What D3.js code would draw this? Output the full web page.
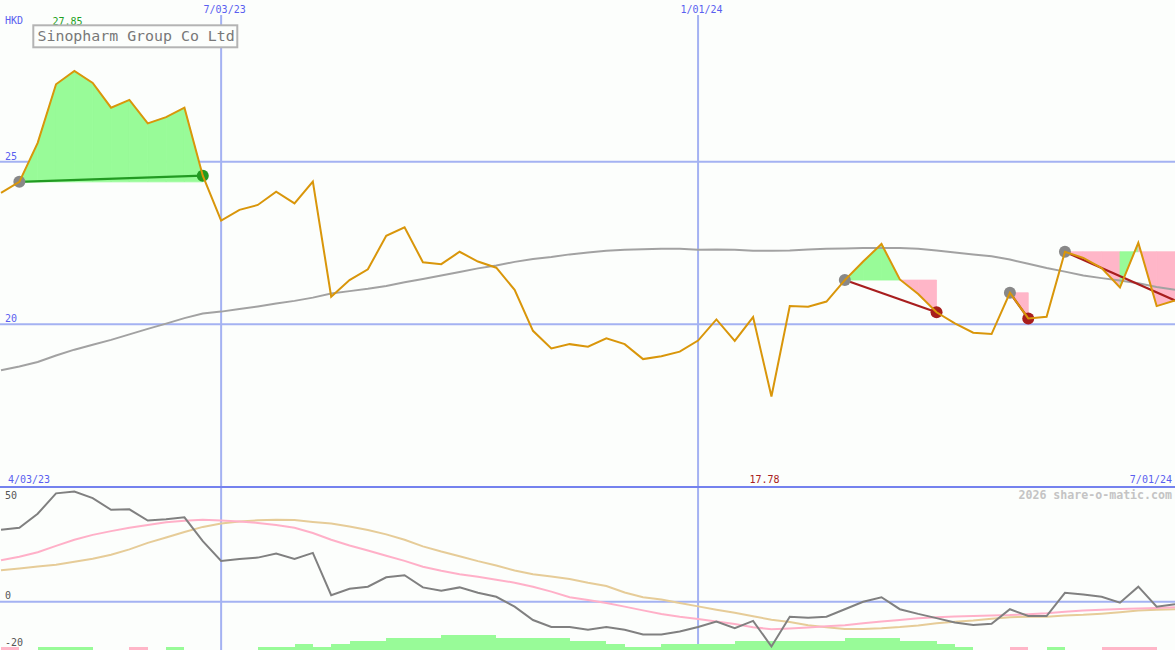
<!DOCTYPE html>
<html><head><meta charset="utf-8">
<script src="https://cdn.jsdelivr.net/npm/d3@7"></script>
<style>
html,body{margin:0;padding:0;background:#fcfefc;}
svg{display:block;}
text{font-family:"DejaVu Sans Mono",monospace;}
</style></head>
<body><svg id="c" width="1175" height="650"></svg>
<script>
// ---------- data ----------
const startDate = new Date(Date.UTC(2023,3,10));
const endDate = new Date(Date.UTC(2024,6,1));
const dates = d3.utcMonday.range(startDate, new Date(Date.UTC(2024,6,2)));

const price = [24.04,24.38,25.58,27.38,27.79,27.42,26.66,26.90,26.18,26.37,
 26.66,24.57,23.19,23.52,23.67,24.08,23.72,24.39,20.85,21.36,
 21.69,22.72,22.98,21.91,21.85,22.23,21.93,21.74,21.06,19.80,
 19.26,19.39,19.31,19.57,19.39,18.93,19.02,19.16,19.50,20.15,
 19.49,20.22,17.78,20.56,20.54,20.70,21.36,21.93,22.47,21.38,
 20.93,20.37,20.03,19.74,19.70,20.97,20.18,20.23,22.23,22.04,
 21.73,21.13,22.51,20.56,20.73];

const priceMA = [18.59,18.70,18.84,19.04,19.22,19.37,19.52,19.69,19.86,20.02,
 20.19,20.33,20.39,20.47,20.55,20.64,20.72,20.82,20.95,21.02,
 21.09,21.18,21.29,21.39,21.50,21.61,21.72,21.81,21.92,22.01,
 22.07,22.15,22.21,22.26,22.29,22.31,22.32,22.32,22.29,22.30,
 22.29,22.26,22.26,22.27,22.30,22.32,22.33,22.35,22.35,22.35,
 22.32,22.27,22.21,22.15,22.09,21.99,21.86,21.73,21.62,21.50,
 21.42,21.35,21.26,21.15,21.06];

const osc = [30.7,31.5,37.5,46.2,47.0,44.2,39.2,39.4,34.6,35.2,
 36.0,25.8,17.4,18.2,18.8,20.5,18.2,20.8,2.8,5.5,
 6.4,10.4,11.3,6.1,4.7,6.1,3.8,2.1,-2.1,-7.8,
 -10.8,-10.8,-12.0,-10.8,-12.0,-14.0,-14.0,-12.7,-10.8,-8.5,
 -11.3,-8.2,-19.1,-6.4,-6.8,-6.4,-3.2,0.0,1.9,-3.2,
 -5.2,-7.0,-8.9,-9.9,-9.4,-3.2,-6.1,-6.1,3.8,3.1,
 2.1,-0.4,6.4,-2.1,-1.1];

const oscFast = [17.7,19.2,21.1,23.8,26.4,28.5,30.1,31.5,32.7,33.9,
 34.5,34.9,34.6,34.2,33.6,32.7,31.5,29.3,26.4,24.0,
 21.8,19.6,17.4,14.9,13.2,11.7,10.6,9.4,8.1,6.4,
 4.3,1.9,0.7,-0.6,-2.1,-3.7,-5.2,-6.4,-7.4,-8.4,
 -9.5,-10.9,-11.7,-11.4,-11.0,-10.5,-10.0,-9.2,-8.4,-7.8,
 -7.1,-6.6,-6.3,-6.1,-5.9,-5.7,-5.3,-4.9,-4.3,-3.8,
 -3.4,-3.1,-2.9,-2.7,-2.4];

const oscSlow = [13.4,14.2,15.0,15.8,17.0,18.3,20.0,22.3,25.1,27.4,
 29.7,31.9,33.3,34.2,34.7,34.9,34.8,34.0,33.3,32.1,
 30.6,28.7,26.4,23.6,21.4,19.4,17.3,15.4,13.3,11.7,
 10.7,9.7,8.1,6.7,3.9,1.9,0.9,-0.6,-2.0,-3.4,
 -4.7,-6.2,-7.7,-8.7,-10.0,-10.9,-11.6,-11.6,-11.3,-10.8,
 -10.1,-9.2,-8.5,-8.0,-7.3,-6.6,-6.4,-6.4,-5.9,-5.6,
 -5.1,-4.5,-3.8,-3.4,-3.2];

const signalBars = [-1,0,1,1,1,0,0,-1,0,1, 0,0,0,0,1,1,2,1,2,3,
 3,4,4,4,5,5,5,4,4,4, 4,3,3,2,1,1,2,2,2,2,
 3,3,3,3,3,3,4,4,4,3, 3,2,1,0,0,-1,0,1,0,0,
 -1,-1,-1,0];

// trend patterns: start index, end index, direction, open-ended
const patStart = [1, 46, 55, 58];
const patEnd   = [11, 51, 56, 64];
const patDir   = ["up","down","down","down"];
const patOpen  = [false,false,false,true];

const priceTicks = [20, 25];
const oscTicks = [50, 0, -20];
const dateTicks = [new Date(Date.UTC(2023,6,3)), new Date(Date.UTC(2024,0,1))];
const dateTickLabels = ["7/03/23", "1/01/24"];
const title = "Sinopharm Group Co Ltd";
const currency = "HKD";
const maxLabel = "27.85", minLabel = "17.78";
const periodStart = "4/03/23", periodEnd = "7/01/24";
const credit = "2026 share-o-matic.com";

// ---------- scales ----------
const W = 1175, H = 650;
const x = d3.scaleUtc().domain([startDate, endDate]).range([1, 1175]);
const y = d3.scaleLinear().domain([20, 25]).range([324.3, 161.7]);
const yL = d3.scaleLinear().domain([0, -20]).range([601.7, 648.6]);
const barH = d3.scaleLinear().domain([0, 5]).range([0, 15]);

const svg = d3.select("#c");
svg.append("rect").attr("width", W).attr("height", H).attr("fill", "#fcfefc");

const gridCol = "#a4b2f2";
const blueText = "#5a5ff0";
const green = "#98fb98", pink = "#ffb6c8";

// horizontal price grid
svg.selectAll(".hg").data(priceTicks).join("line")
  .attr("x1", 0).attr("x2", W).attr("y1", d => y(d)).attr("y2", d => y(d))
  .attr("stroke", gridCol).attr("stroke-width", 2);
// lower zero grid
svg.append("line").attr("x1", 0).attr("x2", W).attr("y1", yL(0)).attr("y2", yL(0))
  .attr("stroke", gridCol).attr("stroke-width", 2);
// vertical date grid
svg.selectAll(".vg").data(dateTicks).join("line")
  .attr("x1", d => x(d)).attr("x2", d => x(d)).attr("y1", 15).attr("y2", H)
  .attr("stroke", gridCol).attr("stroke-width", 2);
// panel separator
svg.append("line").attr("x1", 0).attr("x2", W).attr("y1", 487).attr("y2", 487)
  .attr("stroke", "#7482ee").attr("stroke-width", 2);

// signal bars
svg.selectAll(".bar").data(signalBars.map((v,i)=>({v,i})).filter(d=>d.v!==0)).join("rect")
  .attr("x", d => x(dates[d.i])).attr("width", d => x(dates[d.i+1]) - x(dates[d.i]))
  .attr("y", d => H - barH(Math.abs(d.v))).attr("height", d => barH(Math.abs(d.v)))
  .attr("fill", d => d.v > 0 ? green : pink).attr("shape-rendering","crispEdges");

// pattern fills
patStart.forEach((s, p) => {
  const base = price[s];
  for (let k = s; k < patEnd[p]; k++) {
    const pts = [[x(dates[k]), y(base)], [x(dates[k]), y(price[k])],
                 [x(dates[k+1]), y(price[k+1])], [x(dates[k+1]), y(base)]];
    const c = price[k+1] > base ? green : pink;
    svg.append("path").attr("d", d3.line()(pts) + "Z")
      .attr("fill", c).attr("stroke", c).attr("stroke-width", 0.8).attr("stroke-linejoin","miter");
  }
});

const lineGen = (arr, ys) => d3.line().x((d,i) => x(dates[i])).y(d => ys(d))(arr);

// moving average
svg.append("path").attr("d", lineGen(priceMA, y)).attr("fill","none")
  .attr("stroke","#a2a2a2").attr("stroke-width",2);
// lower panel lines
svg.append("path").attr("d", lineGen(oscSlow, yL)).attr("fill","none")
  .attr("stroke","#e6cc98").attr("stroke-width",2);
svg.append("path").attr("d", lineGen(oscFast, yL)).attr("fill","none")
  .attr("stroke","#ffb0c8").attr("stroke-width",2);
svg.append("path").attr("d", lineGen(osc, yL)).attr("fill","none")
  .attr("stroke","#808080").attr("stroke-width",2);

// pattern lines and dots
patStart.forEach((s, p) => {
  const e = patEnd[p];
  const col = patDir[p] === "up" ? "#229a22" : "#a81e1e";
  svg.append("line").attr("x1", x(dates[s])).attr("y1", y(price[s]))
    .attr("x2", x(dates[e])).attr("y2", y(price[e])).attr("stroke", col).attr("stroke-width", 2.2);
  svg.append("circle").attr("cx", x(dates[s])).attr("cy", y(price[s])).attr("r", 6).attr("fill", "#888888");
  if (!patOpen[p]) svg.append("circle").attr("cx", x(dates[e])).attr("cy", y(price[e])).attr("r", 6).attr("fill", col);
});

// price line
svg.append("path").attr("d", lineGen(price, y)).attr("fill","none")
  .attr("stroke","#d9960a").attr("stroke-width",2);

// ---------- texts ----------
svg.selectAll(".pt").data(priceTicks).join("text")
  .attr("x", 5).attr("y", d => y(d) - 2).attr("font-size", 10).attr("fill", blueText).text(d => d);
svg.selectAll(".ot").data(oscTicks).join("text")
  .attr("x", 5).attr("y", d => Math.max(yL(d) - 2.4, 499.3)).attr("font-size", 10).attr("fill", "#555555")
  .text(d => d);
svg.selectAll(".dt").data(dateTicks).join("text")
  .attr("x", d => x(d) + 3.5).attr("y", 12.7).attr("text-anchor","middle")
  .attr("font-size", 10).attr("fill", blueText).text((d,i) => dateTickLabels[i]);

svg.append("text").attr("x", 5).attr("y", 24.3).attr("font-size", 10).attr("fill", blueText).text(currency);
svg.append("text").attr("x", 52.5).attr("y", 24.6).attr("font-size", 10).attr("fill", "#22a022").text(maxLabel);

svg.append("rect").attr("x", 33.3).attr("y", 25.3).attr("width", 204).attr("height", 22)
  .attr("fill", "#fcfefc").attr("stroke", "#b4b4b4").attr("stroke-width", 2);
svg.append("text").attr("x", 37.5).attr("y", 41.2).attr("font-size", 14.9).attr("fill", "#787878").text(title);

svg.append("text").attr("x", 8).attr("y", 483.3).attr("font-size", 10).attr("fill", blueText).text(periodStart);
svg.append("text").attr("x", 764.5).attr("y", 483.3).attr("text-anchor","middle").attr("font-size", 10).attr("fill", "#a82020").text(minLabel);
svg.append("text").attr("x", 1172).attr("y", 483.3).attr("text-anchor","end").attr("font-size", 10).attr("fill", blueText).text(periodEnd);
svg.append("text").attr("x", 1172).attr("y", 499).attr("text-anchor","end").attr("font-size", 11.6)
  .attr("font-weight","bold").attr("fill", "#c4c4c4").text(credit);
</script></body></html>
